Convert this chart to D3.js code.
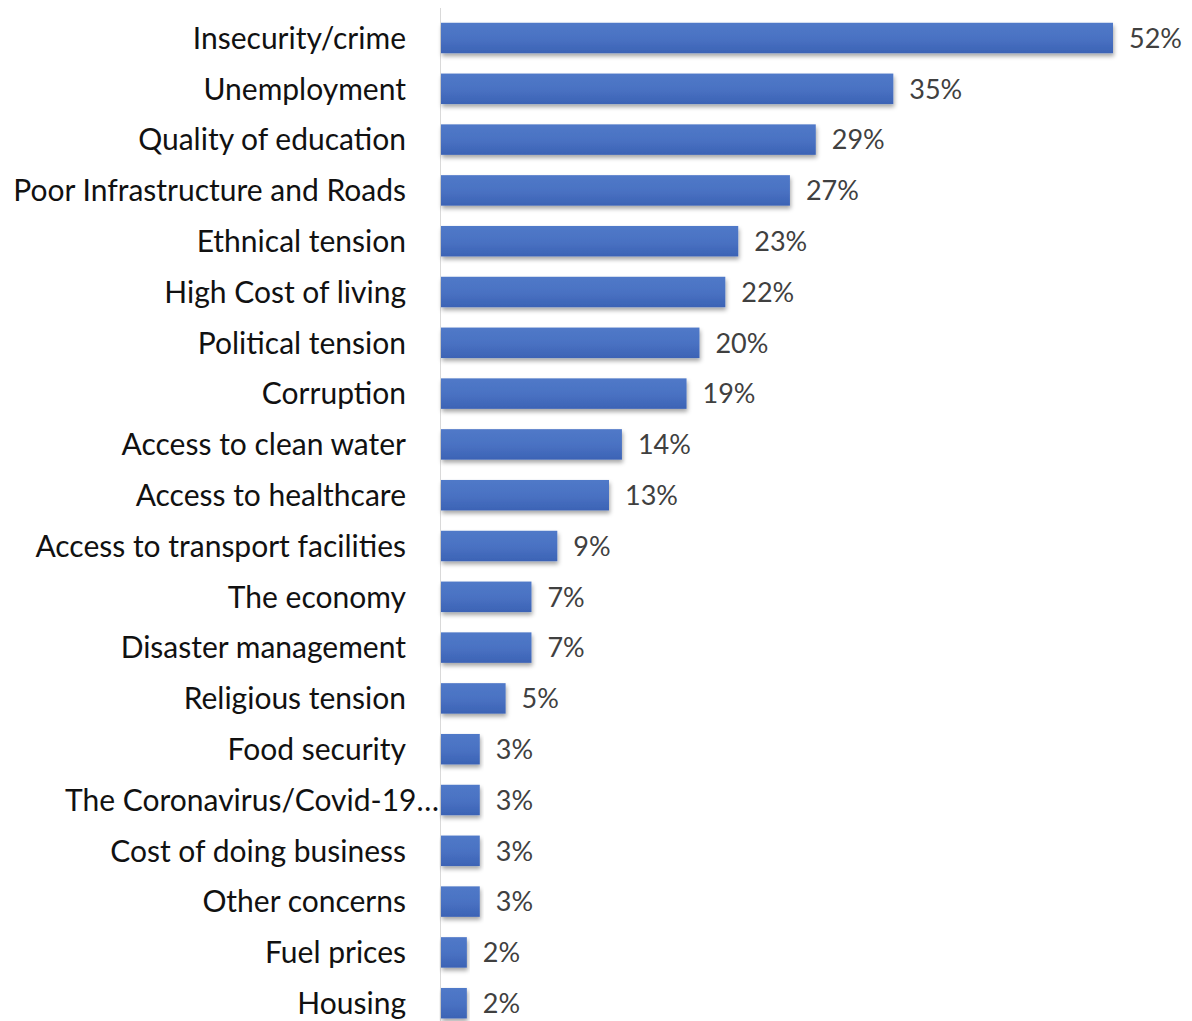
<!DOCTYPE html>
<html>
<head>
<meta charset="utf-8">
<script src="https://cdn.jsdelivr.net/npm/d3@7"></script>
<style>
  html, body { margin: 0; padding: 0; background: #fff; }
  svg { display: block; }
</style>
</head>
<body>
<svg id="chart" width="1192" height="1021"></svg>
<script>
// Concerns ranked by share of respondents
const categories = [
  "Insecurity/crime",
  "Unemployment",
  "Quality of education",
  "Poor Infrastructure and Roads",
  "Ethnical tension",
  "High Cost of living",
  "Political tension",
  "Corruption",
  "Access to clean water",
  "Access to healthcare",
  "Access to transport facilities",
  "The economy",
  "Disaster management",
  "Religious tension",
  "Food security",
  "The Coronavirus/Covid-19\u2026",
  "Cost of doing business",
  "Other concerns",
  "Fuel prices",
  "Housing"
];
const values = [52, 35, 29, 27, 23, 22, 20, 19, 14, 13, 9, 7, 7, 5, 3, 3, 3, 3, 2, 2];

const svg = d3.select("#chart");
const W = 1192, H = 1021;

const x = d3.scaleLinear().domain([0, 52]).range([441, 1113]);
const y = d3.scaleBand().domain(categories).range([12.6, 1028.6]).paddingInner(0.4).paddingOuter(0.2);

// bar gradient and soft shadow
const defs = svg.append("defs");
const grad = defs.append("linearGradient").attr("id", "barGrad")
  .attr("x1", 0).attr("y1", 0).attr("x2", 0).attr("y2", 1);
grad.append("stop").attr("offset", "0%").attr("stop-color", "#5079c8");
grad.append("stop").attr("offset", "50%").attr("stop-color", "#4a72c3");
grad.append("stop").attr("offset", "100%").attr("stop-color", "#3c63b5");
const shadow = defs.append("filter").attr("id", "barShadow")
  .attr("x", "-5%").attr("y", "-20%").attr("width", "115%").attr("height", "160%");
shadow.append("feDropShadow").attr("dx", 1).attr("dy", 3).attr("stdDeviation", 2)
  .attr("flood-color", "#000").attr("flood-opacity", 0.35);

// vertical category axis
svg.append("line")
  .attr("x1", 440.5).attr("x2", 440.5)
  .attr("y1", 8).attr("y2", H)
  .attr("stroke", "#d9d9d9").attr("stroke-width", 1);

const rows = svg.append("g").selectAll("g")
  .data(categories.map((c, i) => ({ c, v: values[i] })))
  .join("g");

rows.append("rect")
  .attr("x", x(0))
  .attr("y", d => y(d.c))
  .attr("width", d => x(d.v) - x(0))
  .attr("height", y.bandwidth())
  .attr("fill", "url(#barGrad)")
  .attr("filter", "url(#barShadow)");

rows.append("text")
  .attr("x", d => x(d.v) + 16)
  .attr("y", d => y(d.c) + y.bandwidth() / 2)
  .attr("dy", "0.36em")
  .attr("font-family", "Lato, 'Open Sans', sans-serif")
  .attr("font-size", 27)
  .attr("fill", "#404040")
  .text(d => d.v + "%");

rows.append("text")
  .attr("x", d => d.c.endsWith("\u2026") ? 439 : 406)
  .attr("y", d => y(d.c) + y.bandwidth() / 2)
  .attr("dy", "0.36em")
  .attr("text-anchor", "end")
  .attr("font-family", "Lato, 'Open Sans', sans-serif")
  .attr("font-size", 30)
  .attr("fill", "#111")
  .text(d => d.c);
</script>
</body>
</html>
